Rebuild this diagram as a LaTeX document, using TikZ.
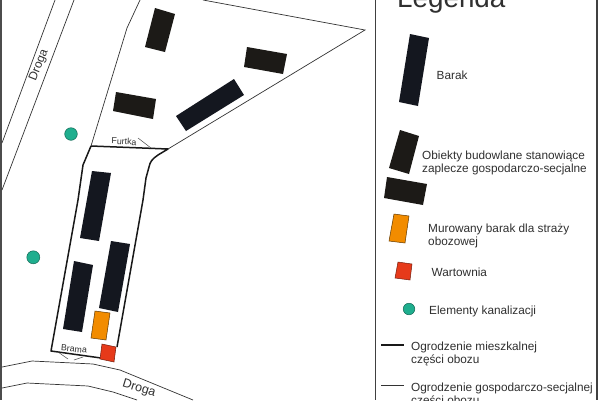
\documentclass[tikz,border=0pt]{standalone}
\usepackage{fontspec}
\setmainfont{Liberation Sans}
\definecolor{navy}{HTML}{14171F}
\definecolor{blk}{HTML}{1C1A17}
\definecolor{org}{HTML}{F28C00}
\definecolor{rd}{HTML}{E63A1A}
\definecolor{teal}{HTML}{1FAE8E}
\definecolor{txt}{HTML}{303030}
\tikzset{
  barak/.style={fill=navy,draw=none},
  zaplecze/.style={fill=blk,draw=none},
  straz/.style={fill=org,draw=black!60!org,line width=.5pt},
  wart/.style={fill=rd,draw=black!50!rd,line width=.5pt},
  kanal/.style={fill=teal,draw=black!40!teal,line width=.5pt},
  thin fence/.style={draw=black!80,line width=.7pt},
  bold fence/.style={draw=black!90,line width=1.5pt},
  lab/.style={anchor=base west,inner sep=0pt,text=txt,font=\fontsize{11.8}{13}\selectfont},
  maplab/.style={inner sep=0pt,text=txt},
}
\begin{document}
\begin{tikzpicture}[x=1pt,y=-1pt]
\useasboundingbox (0,0) rectangle (600,400);
\clip (0,0) rectangle (600,400);
\fill[white] (0,0) rectangle (600,400);
% frame lines
\fill[black!70] (0,0) rectangle (2,400);
\draw[black!75,line width=1.2pt] (375.3,0) -- (375.3,400);
\draw[black!75,line width=1.2pt] (597,0) -- (597,400);
% roads
\draw[thin fence] (55,0) -- (2,143);
\draw[thin fence] (74,0) -- (2,190);
\draw[thin fence] (2,367) -- (32,361) -- (93,364) -- (120,370) -- (193,400);
\draw[thin fence] (2,388) -- (27,383) -- (88,386) -- (113,392) -- (137,400);
% outer fence
\draw[thin fence] (140,0) -- (127,28) -- (91,146);
\draw[thin fence] (203,0) -- (365,30) -- (168,149);
% inner fence
\draw[bold fence,line join=round] (91,146) -- (168,149) -- (158,155) .. controls (152,159) and (150,162) .. (149,167) -- (146,178) -- (143,200) -- (117,347);
\draw[bold fence,line join=round] (91,146) -- (83,165) -- (78,200) -- (51,351) -- (101,358);
% ticks
\draw[black!70,line width=.5pt] (138,138) -- (151,148);
\draw[black!70,line width=.5pt] (58,352) -- (68,359);
\draw[black!70,line width=.5pt] (74,360) -- (83,357);
% barracks
\fill[barak] (92,171) -- (111,173) -- (99,241) -- (80,238) -- cycle;
\fill[barak] (74,261) -- (93,265) -- (82,332) -- (63,329) -- cycle;
\fill[barak] (111,241) -- (130,244) -- (118,312) -- (99,308) -- cycle;
\fill[barak] (234,79) -- (244,95) -- (186,131) -- (176,116) -- cycle;
\fill[zaplecze] (155,8) -- (175,14) -- (165,52) -- (145,47) -- cycle;
\fill[zaplecze] (116,92) -- (156,99) -- (153,119) -- (113,111) -- cycle;
\fill[zaplecze] (247,47) -- (287,54) -- (283,74) -- (244,67) -- cycle;
\draw[straz] (95,311) -- (110,313) -- (106,340) -- (91,338) -- cycle;
\draw[wart] (102,344) -- (116,347) -- (114,362) -- (100,359) -- cycle;
\draw[kanal] (71,134) circle (6.3);
\draw[kanal] (33.3,257.3) circle (6.5);
% map labels
\node[maplab,rotate=68,font=\fontsize{12}{13}\selectfont] (droga1) at (39,65) {Droga};
\node[maplab,rotate=-17,font=\fontsize{12.5}{14}\selectfont] (droga2) at (139,389) {Droga};
\node[maplab,rotate=-3,font=\fontsize{8.8}{10}\selectfont] (furtka) at (124,141.5) {Furtka};
\node[maplab,rotate=-5,font=\fontsize{8.8}{10}\selectfont] (brama) at (74,349) {Brama};
% legend
\node[anchor=base west,inner sep=0pt,text=txt,font=\fontsize{27.8}{30}\selectfont] (title) at (397,7) {Legenda};
\fill[barak] (410,34) -- (429,38) -- (418,106) -- (399,102) -- cycle;
\node[lab] (l1) at (436.5,79) {Barak};
\fill[zaplecze] (400,130) -- (419,136) -- (409,174) -- (389,168) -- cycle;
\fill[zaplecze] (387,177) -- (427,184) -- (423,205) -- (384,198) -- cycle;
\node[lab] (l2a) at (422,159) {Obiekty budowlane stanowiące};
\node[lab] (l2b) at (422,172) {zaplecze gospodarczo-secjalne};
\draw[straz] (394,214) -- (409,216) -- (405,243) -- (389,241) -- cycle;
\node[lab] (l3a) at (428,232) {Murowany barak dla straży};
\node[lab] (l3b) at (428,245) {obozowej};
\draw[wart] (398,262) -- (412,264) -- (410,280) -- (395,278) -- cycle;
\node[lab] (l4) at (431.5,276) {Wartownia};
\draw[kanal] (409,309) circle (5.8);
\node[lab] (l5) at (429,314) {Elementy kanalizacji};
\draw[bold fence] (381,345) -- (404,345);
\node[lab] (l6a) at (411,350) {Ogrodzenie mieszkalnej};
\node[lab] (l6b) at (411,363) {części obozu};
\draw[thin fence] (381,385) -- (404,385);
\node[lab] (l7a) at (411,391) {Ogrodzenie gospodarczo-secjalnej};
\node[lab] (l7b) at (411,404) {części obozu};
\end{tikzpicture}
\end{document}
